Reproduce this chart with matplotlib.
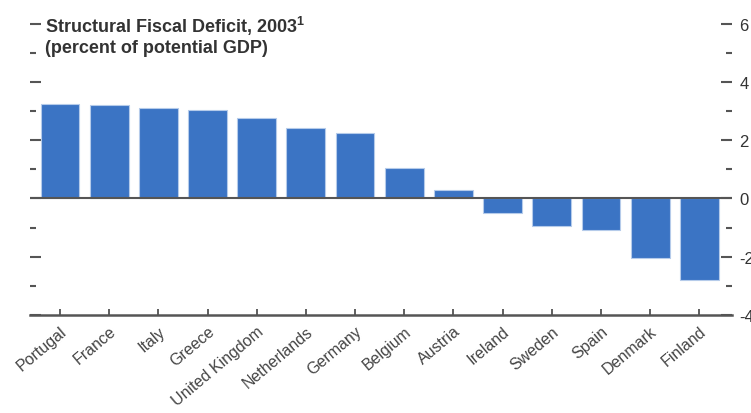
import numpy as np
import matplotlib
matplotlib.use("Agg")
import matplotlib.pyplot as plt
from matplotlib.ticker import MultipleLocator

plt.rcParams['font.family'] = ['Liberation Sans', 'DejaVu Sans']
plt.rcParams['mathtext.fontset'] = 'custom'
plt.rcParams['mathtext.rm'] = 'Liberation Sans'
plt.rcParams['mathtext.bf'] = 'Liberation Sans:bold'

# structural fiscal deficit, 2003 (percent of potential GDP)
countries = ["Portugal", "France", "Italy", "Greece", "United Kingdom",
             "Netherlands", "Germany", "Belgium", "Austria", "Ireland",
             "Sweden", "Spain", "Denmark", "Finland"]
deficit = [3.26, 3.20, 3.12, 3.05, 2.78, 2.43, 2.25,
           1.04, 0.30, -0.51, -0.94, -1.08, -2.03, -2.80]
y_ticks = [-4, -2, 0, 2, 4, 6]

fig = plt.figure(figsize=(7.51, 4.14), dpi=100)
ax = fig.add_axes([0.040, 0.237, 0.935, 0.703])

x = np.arange(len(countries))
ax.bar(x, deficit, width=0.79, color='#3b74c4', edgecolor='#b5cbea',
       linewidth=0.8, zorder=2)
ax.axhline(0, color='#555555', lw=1.5, zorder=3)

ax.set_xlim(-0.61, 13.67)
ax.set_ylim(-4, 6)

for s in ['top', 'left', 'right']:
    ax.spines[s].set_visible(False)
ax.spines['bottom'].set_color('#555555')
ax.spines['bottom'].set_linewidth(1.8)

ax.set_xticks(x)
ax.set_xticklabels(countries, rotation=40, ha='right', rotation_mode='anchor',
                   fontsize=11.5, color='#444444')
ax.tick_params(axis='x', direction='in', length=4, width=1.2, color='#444444', pad=6)

ax.set_yticks(y_ticks)
ax.set_yticklabels([str(v) for v in y_ticks], fontsize=12, color='#333333')
ax.yaxis.set_minor_locator(MultipleLocator(1))
ax.tick_params(axis='y', which='both', left=True, right=True,
               labelleft=False, labelright=True, direction='in',
               color='#555555', width=1.5)
ax.tick_params(axis='y', which='major', length=8, pad=5)
ax.tick_params(axis='y', which='minor', length=4)

ax.text(0.021, 0.9725, r"Structural Fiscal Deficit, 2003$^{\mathbf{1}}$",
        transform=ax.transAxes, fontsize=13, fontweight='bold',
        color='#333333', va='baseline', ha='left')
ax.text(0.021, 0.9038, "(percent of potential GDP)", transform=ax.transAxes,
        fontsize=13, fontweight='bold', color='#333333', va='baseline', ha='left')

fig.savefig("out.png", dpi=100)
